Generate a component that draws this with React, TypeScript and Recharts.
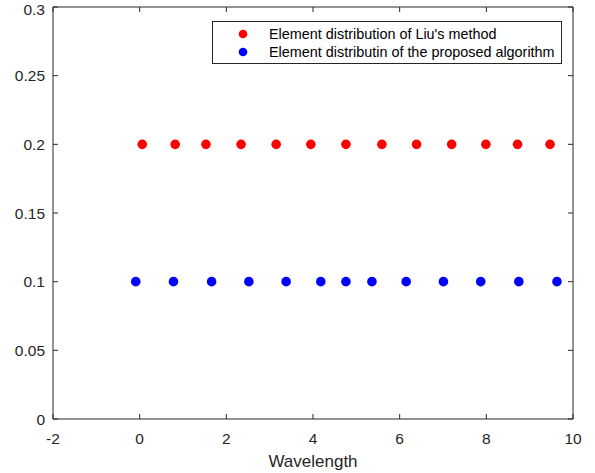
import React from 'react';
import { ScatterChart, Scatter, XAxis, YAxis, Legend } from 'recharts';

const liuX = [0.06, 0.82, 1.53, 2.34, 3.15, 3.95, 4.76, 5.59, 6.39, 7.2, 7.99, 8.72, 9.47];
const liuY = [0.2, 0.2, 0.2, 0.2, 0.2, 0.2, 0.2, 0.2, 0.2, 0.2, 0.2, 0.2, 0.2];
const propX = [-0.09, 0.78, 1.66, 2.52, 3.38, 4.18, 4.76, 5.36, 6.15, 7.01, 7.87, 8.75, 9.63];
const propY = [0.1, 0.1, 0.1, 0.1, 0.1, 0.1, 0.1, 0.1, 0.1, 0.1, 0.1, 0.1, 0.1];
const xTicks = [-2, 0, 2, 4, 6, 8, 10];
const yTicks = [0, 0.05, 0.1, 0.15, 0.2, 0.25, 0.3];
const seriesNames = ["Element distribution of Liu's method", 'Element distributin of the proposed algorithm'];
const seriesColors = ['#ff0000', '#0000ff'];
const xLabel = 'Wavelength';

const liuData = liuX.map((x, i) => ({ x, y: liuY[i] }));
const propData = propX.map((x, i) => ({ x, y: propY[i] }));

const FONT = '"Liberation Sans", Arial, Helvetica, sans-serif';
const AX = '#262626';

const Dot = (props: any) => {
  const { cx, cy, fill } = props;
  if (cx == null || cy == null) return null;
  return <circle cx={cx} cy={cy} r={4.8} fill={fill} />;
};

const LegendBox = (props: any) => {
  const payload = [...(props.payload || [])].sort(
    (a: any, b: any) => seriesNames.indexOf(a.value) - seriesNames.indexOf(b.value)
  );
  return (
    <div
      style={{
        boxSizing: 'border-box',
        width: 350,
        height: 43,
        border: `1px solid ${AX}`,
        background: '#fff',
        fontFamily: FONT,
        fontSize: 14.4,
        color: '#000',
        paddingTop: 3,
      }}
    >
      {payload.map((p: any, i: number) => (
        <div key={i} style={{ display: 'flex', alignItems: 'center', height: 18, whiteSpace: 'nowrap' }}>
          <svg width={56} height={18} style={{ display: 'block', flex: 'none' }}>
            <circle cx={30} cy={9} r={4.3} fill={p.color} />
          </svg>
          <span>{p.value}</span>
        </div>
      ))}
    </div>
  );
};

export default function App() {
  return (
    <div style={{ position: 'absolute', left: 0, top: 0, background: '#fff' }}>
      <ScatterChart width={595} height={473} margin={{ top: 6, right: 21, bottom: 0, left: 8 }}>
        <XAxis
          dataKey="x"
          type="number"
          domain={[-2, 10]}
          ticks={xTicks}
          allowDataOverflow
          height={54}
          tickSize={-5}
          tickMargin={19}
          axisLine={{ stroke: AX }}
          tickLine={{ stroke: AX }}
          tick={{ fill: AX, fontSize: 15.5, fontFamily: FONT }}
          label={{ value: xLabel, position: 'insideBottom', offset: 6, fill: AX, fontSize: 17, fontFamily: FONT }}
        />
        <XAxis
          xAxisId="top"
          orientation="top"
          dataKey="x"
          type="number"
          domain={[-2, 10]}
          ticks={xTicks}
          allowDataOverflow
          height={1}
          tickSize={-5}
          tickFormatter={() => ''}
          axisLine={{ stroke: AX }}
          tickLine={{ stroke: AX }}
        />
        <YAxis
          dataKey="y"
          type="number"
          domain={[0, 0.3]}
          ticks={yTicks}
          allowDataOverflow
          width={45}
          tickSize={-5}
          tickMargin={13}
          axisLine={{ stroke: AX }}
          tickLine={{ stroke: AX }}
          tick={{ fill: AX, fontSize: 15.5, fontFamily: FONT }}
        />
        <YAxis
          yAxisId="right"
          orientation="right"
          dataKey="y"
          type="number"
          domain={[0, 0.3]}
          ticks={yTicks}
          allowDataOverflow
          width={1}
          tickSize={-5}
          tickFormatter={() => ''}
          axisLine={{ stroke: AX }}
          tickLine={{ stroke: AX }}
        />
        <Legend
          layout="horizontal"
          verticalAlign="middle"
          align="center"
          content={<LegendBox />}
          wrapperStyle={{ position: 'absolute', left: 212, top: 21, width: 350, height: 43 }}
        />
        <Scatter name={seriesNames[0]} data={liuData} fill={seriesColors[0]} shape={<Dot />} isAnimationActive={false} />
        <Scatter name={seriesNames[1]} data={propData} fill={seriesColors[1]} shape={<Dot />} isAnimationActive={false} />
      </ScatterChart>
    </div>
  );
}
